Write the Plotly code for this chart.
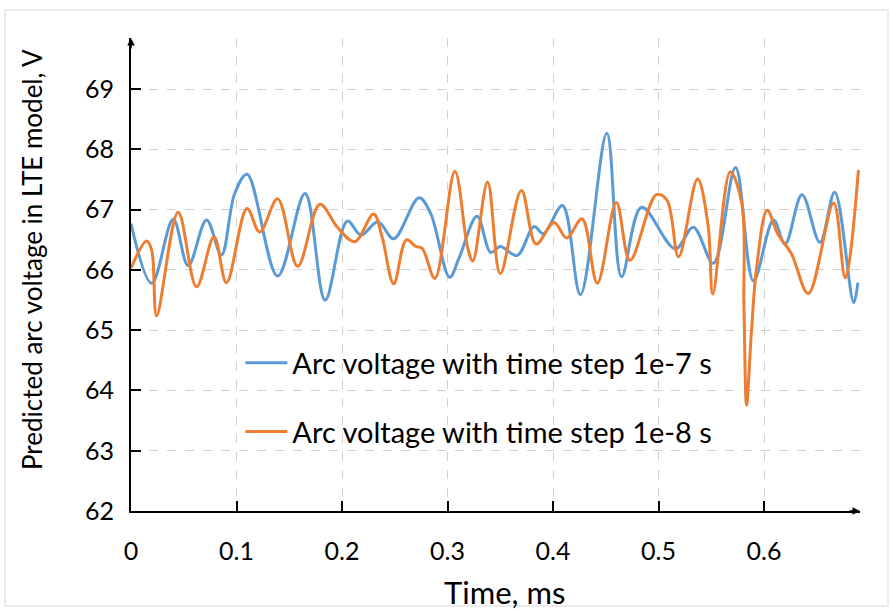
import plotly.graph_objects as go

# Blue series: arc voltage with time step 1e-7 s
t_blue = [0.000, 0.0196, 0.040, 0.0542, 0.0716, 0.0857, 0.0983, 0.110, 0.139, 0.165,
          0.184, 0.205, 0.218, 0.234, 0.249, 0.273, 0.284, 0.302, 0.311, 0.328,
          0.341, 0.350, 0.366, 0.382, 0.391, 0.409, 0.426, 0.451, 0.465, 0.484,
          0.516, 0.533, 0.552, 0.573, 0.590, 0.609, 0.620, 0.636, 0.653, 0.667,
          0.685, 0.689]
v_blue = [66.77, 65.78, 66.84, 66.07, 66.83, 66.25, 67.27, 67.59, 65.90, 67.27,
          65.50, 66.81, 66.58, 66.80, 66.52, 67.20, 66.94, 65.88, 66.20, 66.89,
          66.29, 66.39, 66.24, 66.72, 66.60, 67.07, 65.59, 68.27, 65.89, 67.04,
          66.35, 66.71, 66.11, 67.70, 65.82, 66.83, 66.43, 67.25, 66.46, 67.29,
          65.46, 65.79]

# Orange series: arc voltage with time step 1e-8 s
t_orange = [0.000, 0.0148, 0.0196, 0.0243, 0.0447, 0.0621, 0.0787, 0.0905, 0.110, 0.122,
            0.139, 0.158, 0.179, 0.196, 0.212, 0.230, 0.238, 0.249, 0.261, 0.270,
            0.276, 0.288, 0.307, 0.319, 0.324, 0.338, 0.350, 0.370, 0.384, 0.401,
            0.413, 0.4275, 0.442, 0.460, 0.473, 0.498, 0.508, 0.519, 0.537, 0.547,
            0.5515, 0.568, 0.579, 0.581, 0.5835, 0.588, 0.593, 0.603, 0.613, 0.626,
            0.642, 0.666, 0.677, 0.6895]
v_orange = [66.03, 66.48, 66.33, 65.24, 66.96, 65.72, 66.55, 65.79, 67.02, 66.63,
            67.18, 66.06, 67.09, 66.70, 66.47, 66.93, 66.55, 65.77, 66.50, 66.39,
            66.36, 65.86, 67.64, 66.38, 66.15, 67.46, 65.94, 67.32, 66.43, 66.79,
            66.53, 66.85, 65.78, 67.12, 66.16, 67.25, 67.16, 66.22, 67.51, 66.74,
            65.60, 67.63, 67.10, 65.40, 63.76, 64.95, 66.04, 66.99, 66.60, 66.27,
            65.61, 67.11, 65.87, 67.66]

x_ticks = [0, 0.1, 0.2, 0.3, 0.4, 0.5, 0.6]
x_tick_labels = ["0", "0.1", "0.2", "0.3", "0.4", "0.5", "0.6"]
y_ticks = [62, 63, 64, 65, 66, 67, 68, 69]

name_blue = "Arc voltage with time step 1e-7 s"
name_orange = "Arc voltage with time step 1e-8 s"
x_title = "Time, ms"
y_title = "Predicted arc voltage in LTE model, V"

FONT = "Lato, Liberation Sans, sans-serif"
X_MAX = 0.691
Y_MAX = 69.85

fig = go.Figure()
fig.add_trace(go.Scatter(x=t_blue, y=v_blue, mode="lines", name=name_blue,
                         legendgroup="a",
                         line=dict(color="#5B9BD5", width=3, shape="spline", smoothing=1.0)))
fig.add_trace(go.Scatter(x=t_orange, y=v_orange, mode="lines", name=name_orange,
                         legendgroup="b",
                         line=dict(color="#ED7D31", width=3, shape="spline", smoothing=1.0)))

fig.update_layout(
    width=893, height=612,
    margin=dict(l=131, r=33, t=38, b=101),
    paper_bgcolor="white", plot_bgcolor="white",
    font=dict(family=FONT, size=22, color="black"),
    showlegend=True,
    legend=dict(x=0.150, y=0.24, xanchor="left", yanchor="middle",
                bgcolor="rgba(0,0,0,0)", font=dict(size=29, family=FONT),
                traceorder="grouped", tracegroupgap=28, itemwidth=42),
)

fig.update_xaxes(
    range=[0, X_MAX], tickvals=x_ticks, ticktext=x_tick_labels,
    showgrid=True, gridcolor="#d0d0d0", griddash="dash", gridwidth=1,
    showline=True, linecolor="black", linewidth=2,
    ticks="inside", ticklen=10, tickwidth=2, tickcolor="black",
    tickfont=dict(size=25), ticklabelstandoff=17,
    zeroline=False,
)
fig.update_yaxes(
    range=[62, Y_MAX], tickvals=y_ticks,
    showgrid=True, gridcolor="#d0d0d0", griddash="dash", gridwidth=1,
    showline=True, linecolor="black", linewidth=2,
    ticks="inside", ticklen=10, tickwidth=2, tickcolor="black",
    tickfont=dict(size=25), ticklabelstandoff=10,
    zeroline=False,
)

# axis arrowheads
fig.add_annotation(x=X_MAX, y=62, xref="x", yref="y", ax=-12, ay=0,
                   showarrow=True, arrowhead=2, arrowsize=1, arrowwidth=1.5,
                   arrowcolor="black", text="")
fig.add_annotation(x=0, y=Y_MAX, xref="x", yref="y", ax=0, ay=12,
                   showarrow=True, arrowhead=2, arrowsize=1, arrowwidth=1.5,
                   arrowcolor="black", text="")

# axis titles
fig.add_annotation(text=x_title, xref="paper", yref="paper",
                   x=(504 - 131) / 729, y=-(592 - 511) / 473,
                   showarrow=False, font=dict(size=31, family=FONT),
                   xanchor="center", yanchor="middle")
fig.add_annotation(text=y_title, xref="paper", yref="paper",
                   x=-(131 - 32) / 729, y=(511 - 260) / 473, textangle=-90,
                   showarrow=False, font=dict(size=26, family=FONT),
                   xanchor="center", yanchor="middle")

# outer chart border
fig.add_shape(type="rect", xref="paper", yref="paper",
              x0=-(131 - 5) / 729, x1=1 + (888 - 860) / 729,
              y0=-(606 - 511) / 473, y1=1 + (38 - 10) / 473,
              line=dict(color="#d9d9d9", width=1), layer="below")

fig.write_html("out.html")
